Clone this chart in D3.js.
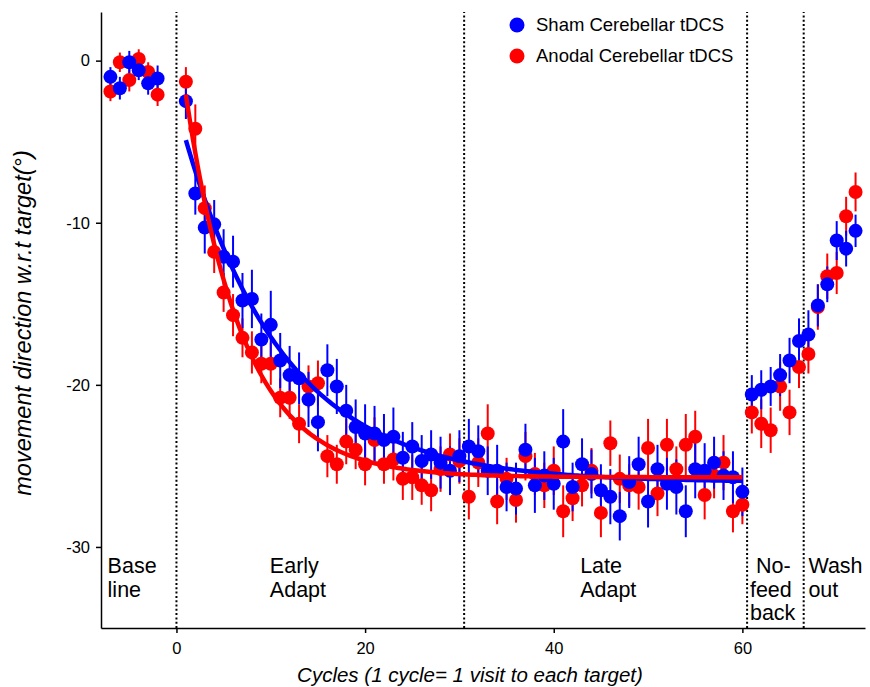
<!DOCTYPE html>
<html>
<head>
<meta charset="utf-8">
<script src="https://cdn.jsdelivr.net/npm/d3@7/dist/d3.min.js"></script>
<style>
  html, body { margin: 0; padding: 0; background: #fff; }
  svg { display: block; font-family: "Liberation Sans", Arial, Helvetica, sans-serif; }
</style>
</head>
<body>
<svg id="chart" width="870" height="687"></svg>
<script>
// ---------------- data ----------------
const cycles = [
  -7, -6, -5, -4, -3, -2,
  1, 2, 3, 4, 5, 6, 7, 8, 9, 10, 11, 12, 13, 14, 15, 16, 17, 18, 19, 20, 21, 22, 23, 24, 25, 26, 27, 28, 29, 30,
  31, 32, 33, 34, 35, 36, 37, 38, 39, 40, 41, 42, 43, 44, 45, 46, 47, 48, 49, 50, 51, 52, 53, 54, 55, 56, 57, 58, 59, 60,
  61, 62, 63, 64, 65, 66,
  67, 68, 69, 70, 71, 72
];
const shamMean = [
  -1.0, -1.7, -0.1, -0.6, -1.4, -1.1,
  -2.5, -8.2, -10.3, -10.1, -12.1, -12.4, -14.8, -14.7, -17.2, -16.3, -18.5, -19.4, -19.6, -20.9, -22.3, -19.1, -20.1, -21.6, -22.6, -23.0, -23.0, -23.4, -23.2, -24.5, -23.8, -24.7, -24.3, -24.8, -25.3, -24.4,
  -23.8, -24.1, -25.3, -25.3, -26.3, -26.4, -24.0, -26.2, -25.6, -26.1, -23.5, -26.3, -24.9, -25.5, -26.5, -26.9, -28.1, -26.0, -24.9, -27.2, -25.2, -26.1, -26.3, -27.8, -25.2, -25.3, -24.8, -25.6, -25.7, -26.6,
  -20.6, -20.3, -20.1, -19.4, -18.5, -17.3,
  -16.9, -15.1, -13.8, -11.1, -11.6, -10.5
];
const shamErr = [
  0.6, 0.7, 0.7, 0.6, 0.7, 0.8,
  1.1, 1.3, 1.6, 1.5, 1.7, 1.6, 1.7, 1.8, 1.6, 2.1, 1.7, 1.8, 1.6, 1.7, 1.8, 1.6, 1.7, 1.6, 1.7, 1.8, 1.7, 1.6, 1.8, 1.6, 1.5, 1.6, 1.5, 1.6, 1.5, 1.6,
  1.7, 1.6, 1.5, 1.6, 1.5, 1.6, 1.6, 1.7, 1.5, 1.6, 2.0, 1.5, 1.6, 1.5, 1.6, 1.7, 1.5, 1.6, 1.7, 1.6, 1.5, 1.6, 1.7, 1.6, 1.8, 1.7, 1.6, 1.5, 1.6, 1.5,
  1.2, 1.2, 1.2, 1.3, 1.4, 1.4,
  1.5, 1.3, 1.1, 1.2, 1.1, 1.0
];
const anodalMean = [
  -1.9, -0.1, -1.2, 0.1, -0.7, -2.1,
  -1.3, -4.2, -9.1, -11.8, -14.3, -15.7, -17.1, -18.0, -18.7, -18.7, -20.8, -20.8, -22.4, -20.1, -19.9, -24.4, -24.9, -23.5, -24.0, -24.9, -23.4, -24.9, -24.6, -25.8, -25.7, -26.2, -26.5, -25.2, -24.3, -24.7,
  -26.9, -24.8, -23.0, -27.2, -25.8, -27.1, -24.4, -25.5, -26.2, -25.3, -27.8, -27.0, -26.2, -25.3, -27.9, -23.6, -25.8, -26.2, -26.3, -23.9, -26.7, -23.7, -25.2, -23.7, -23.2, -26.8, -25.6, -24.8, -27.8, -27.4,
  -21.7, -22.4, -22.8, -20.1, -21.7, -18.9,
  -18.1, -15.2, -13.3, -13.1, -9.6, -8.1
];
const anodalErr = [
  0.6, 0.6, 0.7, 0.6, 0.6, 0.7,
  0.9, 1.5, 1.4, 1.3, 1.2, 1.3, 1.2, 1.3, 1.2, 1.3, 1.2, 1.3, 1.2, 1.3, 1.4, 1.3, 1.2, 1.4, 1.2, 1.3, 1.4, 1.2, 1.3, 1.3, 1.4, 1.2, 1.3, 1.4, 1.3, 1.4,
  1.4, 1.5, 1.8, 1.4, 1.3, 1.4, 1.5, 1.3, 1.4, 1.5, 1.6, 1.4, 1.3, 1.4, 1.5, 1.4, 1.5, 1.3, 1.4, 1.8, 1.4, 1.6, 1.4, 1.9, 1.6, 1.5, 1.4, 1.7, 1.3, 1.2,
  1.3, 1.5, 1.4, 1.5, 1.4, 1.3,
  1.2, 1.4, 1.4, 1.3, 1.2, 1.2
];
// exponential fits over adaptation (cycles 1..60): [asymptote, amplitude at cycle 1, time constant]
const shamFit = [-26.0, 21.1, 10.5];
const anodalFit = [-25.7, 23.6, 6.05];
const fitRange = [1, 60];

const seriesNames = ["Sham Cerebellar tDCS", "Anodal Cerebellar tDCS"];
const seriesColors = ["#0000ff", "#ff0000"];

const phaseBounds = [0, 30.5, 60.5, 66.5];
const phaseLabels = [
  {x: -7.3, lines: ["Base", "line"]},
  {x: 9.9, lines: ["Early", "Adapt"]},
  {x: 42.8, lines: ["Late", "Adapt"]},
  {x: 60.8, lines: [" No-", "feed", "back"]},
  {x: 67.0, lines: ["Wash", "out"]}
];

const xTicks = [0, 20, 40, 60];
const yTicks = [0, -10, -20, -30];
const xDomain = [-8, 73];
const yDomain = [-35, 3];

// ---------------- drawing ----------------
const svg = d3.select("#chart");
const m = {left: 101, right: 5, top: 12, bottom: 59};
const W = 870, H = 687;

const x = d3.scaleLinear().domain(xDomain).range([m.left, W - m.right]);
const y = d3.scaleLinear().domain(yDomain).range([H - m.bottom, m.top]);

// phase separators
svg.append("g").selectAll("line").data(phaseBounds).join("line")
  .attr("x1", d => x(d)).attr("x2", d => x(d))
  .attr("y1", y(yDomain[0])).attr("y2", y(yDomain[1]))
  .attr("stroke", "#000").attr("stroke-width", 2)
  .attr("stroke-dasharray", "2,2.3");

// phase labels
const pl = svg.append("g").attr("font-size", 21.5).attr("fill", "#000");
phaseLabels.forEach(p => {
  const t = pl.append("text").attr("x", x(p.x)).attr("y", 573).attr("xml:space", "preserve");
  p.lines.forEach((ln, i) => {
    t.append("tspan").attr("x", x(p.x)).attr("dy", i === 0 ? 0 : 23.5).text(ln);
  });
});

const rows = cycles.map((c, i) => ({c, s: shamMean[i], se: shamErr[i], a: anodalMean[i], ae: anodalErr[i]}));

function drawBars(meanKey, errKey, color) {
  svg.append("g").selectAll("line").data(rows).join("line")
    .attr("x1", d => x(d.c)).attr("x2", d => x(d.c))
    .attr("y1", d => y(d[meanKey] - d[errKey])).attr("y2", d => y(d[meanKey] + d[errKey]))
    .attr("stroke", color).attr("stroke-width", 2);
}
function drawPoints(meanKey, color) {
  svg.append("g").selectAll("circle").data(rows).join("circle")
    .attr("cx", d => x(d.c)).attr("cy", d => y(d[meanKey]))
    .attr("r", 7).attr("fill", color);
}
drawBars("a", "ae", seriesColors[1]);
drawBars("s", "se", seriesColors[0]);
drawPoints("a", seriesColors[1]);
drawPoints("s", seriesColors[0]);

// fits
function fitPoints(p) {
  const pts = [];
  for (let c = fitRange[0]; c <= fitRange[1] + 1e-9; c += 0.25) {
    pts.push([c, p[0] + p[1] * Math.exp(-(c - fitRange[0]) / p[2])]);
  }
  return pts;
}
const line = d3.line().x(d => x(d[0])).y(d => y(d[1]));
svg.append("path").attr("d", line(fitPoints(shamFit))).attr("fill", "none")
  .attr("stroke", seriesColors[0]).attr("stroke-width", 4.5);
svg.append("path").attr("d", line(fitPoints(anodalFit))).attr("fill", "none")
  .attr("stroke", seriesColors[1]).attr("stroke-width", 4.5);

// axes
const xAxis = d3.axisBottom(x).tickValues(xTicks).tickSize(5).tickPadding(9).tickSizeOuter(0);
const yAxis = d3.axisLeft(y).tickValues(yTicks).tickSize(5).tickPadding(6).tickSizeOuter(0)
  .tickFormat(d => d === 0 ? "0" : String(d).replace("\u2212", "-"));
const gx = svg.append("g").attr("transform", `translate(0,${H - m.bottom})`).call(xAxis);
const gy = svg.append("g").attr("transform", `translate(${m.left},0)`).call(yAxis);
[gx, gy].forEach(g => {
  g.selectAll("text").attr("font-size", 16.5).attr("fill", "#000").attr("font-family", "Liberation Sans, Arial, sans-serif");
  g.selectAll("line").attr("stroke", "#000").attr("stroke-width", 1.5);
  g.select(".domain").attr("stroke", "#000").attr("stroke-width", 1.5);
});

// axis titles
svg.append("text").attr("x", 470).attr("y", 682).attr("text-anchor", "middle")
  .attr("font-size", 20.5).attr("font-style", "italic").text("Cycles (1 cycle= 1 visit to each target)");
svg.append("text").attr("transform", "translate(31,323) rotate(-90)").attr("text-anchor", "middle")
  .attr("font-size", 23.5).attr("font-style", "italic").text("movement direction w.r.t target(°)");

// legend
const lg = svg.append("g");
seriesNames.forEach((n, i) => {
  lg.append("circle").attr("cx", 517).attr("cy", 25 + i * 31).attr("r", 7.5).attr("fill", seriesColors[i]);
  lg.append("text").attr("x", 536).attr("y", 25 + i * 31).attr("dy", "0.35em")
    .attr("font-size", 18.5).text(n);
});
</script>
</body>
</html>
